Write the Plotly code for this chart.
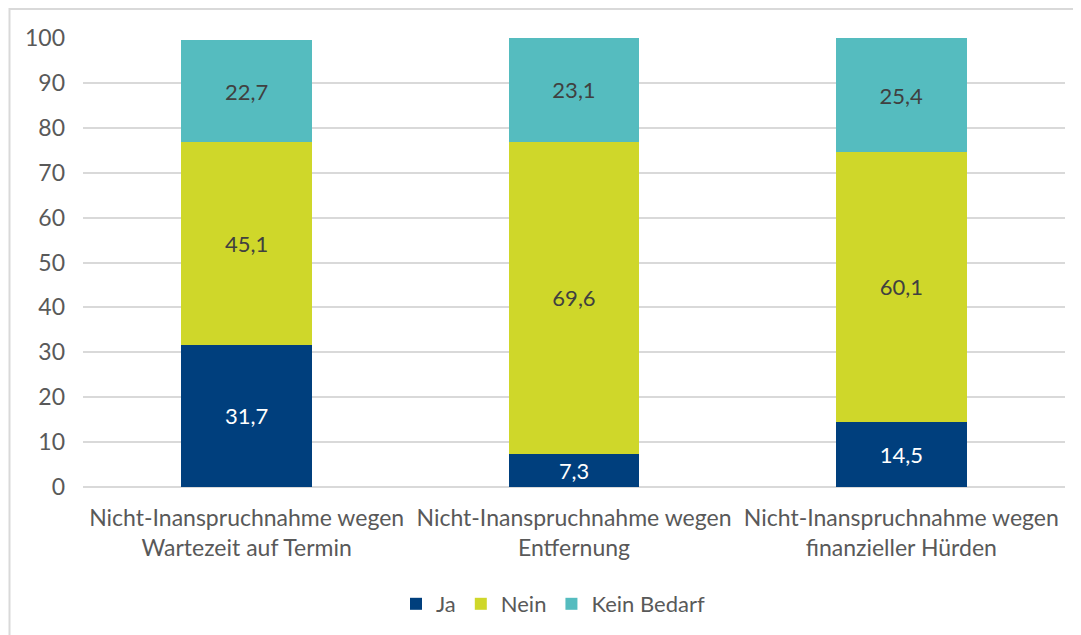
import plotly.graph_objects as go

categories = ["Nicht-Inanspruchnahme wegen<br>Wartezeit auf Termin",
              "Nicht-Inanspruchnahme wegen<br>Entfernung",
              "Nicht-Inanspruchnahme wegen<br>finanzieller Hürden"]
ja = [31.7, 7.3, 14.5]
nein = [45.1, 69.6, 60.1]
kein_bedarf = [22.7, 23.1, 25.4]
tick_vals = [0, 10, 20, 30, 40, 50, 60, 70, 80, 90, 100]

FONT = "Lato"
W, H = 1081, 635
OFF = 8  # page body offset
L, R, T, B = 83 - OFF, 16 + OFF, 38 - OFF, 148 + OFF

def fmt(v):
    return f"{v:.1f}".replace(".", ",")

series = [
    ("Ja", ja, "#003F7D", "#FFFFFF"),
    ("Nein", nein, "#CFD72A", "#404040"),
    ("Kein Bedarf", kein_bedarf, "#55BCBF", "#404040"),
]

fig = go.Figure()
for name, vals, col, tcol in series:
    fig.add_trace(go.Bar(
        x=categories, y=vals, name=name,
        marker=dict(color=col, line=dict(width=0)),
        text=[fmt(v) for v in vals], textposition="inside",
        insidetextanchor="middle",
        textfont=dict(family=FONT, size=22, color=tcol),
        hoverinfo="skip",
    ))

pw = W - L - R
ph = H - T - B
fig.update_layout(
    barmode="stack", bargap=0.6,
    width=W, height=H,
    margin=dict(l=L, r=R, t=T, b=B, autoexpand=False),
    paper_bgcolor="white", plot_bgcolor="white",
    font=dict(family=FONT, size=22, color="#595959"),
    showlegend=True,
    legend=dict(orientation="h", xref="container", yref="container",
                x=(553 - OFF) / W, xanchor="center",
                y=1 - (604 - OFF) / H, yanchor="middle",
                font=dict(family=FONT, size=22, color="#595959"),
                itemwidth=30, traceorder="normal"),
    xaxis=dict(showgrid=False, showline=False, ticks="",
               tickfont=dict(family=FONT, size=23, color="#595959"),
               ticklabelstandoff=15),
    yaxis=dict(range=[0, 100], tickvals=tick_vals, showgrid=True,
               gridcolor="#D9D9D9", gridwidth=1.5, zeroline=True,
               zerolinecolor="#D9D9D9", zerolinewidth=1.5,
               showline=False, ticks="",
               tickfont=dict(family=FONT, size=23, color="#595959"),
               ticklabelstandoff=17),
    shapes=[dict(type="rect", xref="paper", yref="paper",
                 x0=(1.5 - L) / pw, x1=(W + 20 - L) / pw,
                 y0=-(H + 20 - (H - B)) / ph, y1=((H - B) - (9 - OFF)) / ph,
                 line=dict(color="#D9D9D9", width=2), fillcolor="rgba(0,0,0,0)",
                 layer="below")],
)

fig.write_html("out.html")
